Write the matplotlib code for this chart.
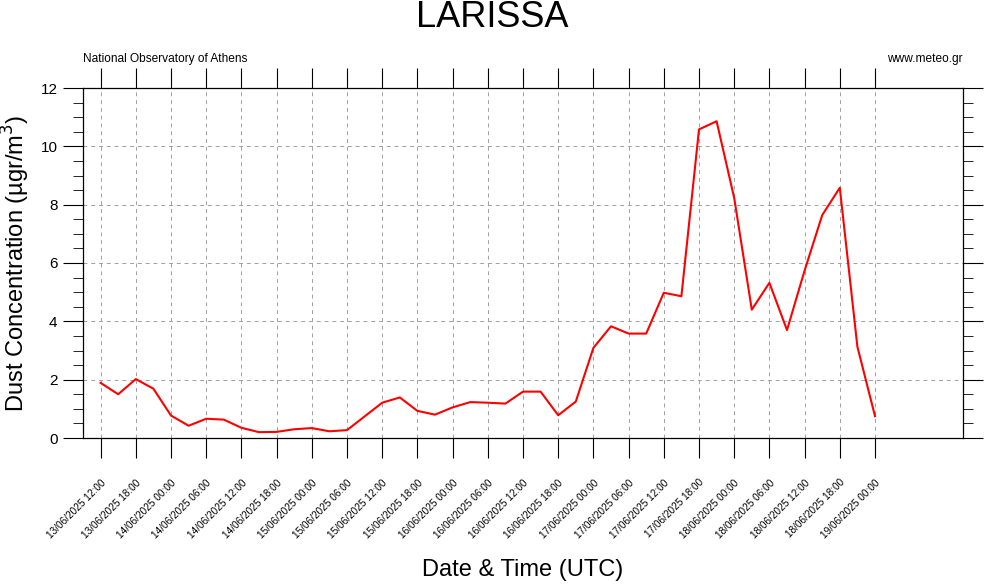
import numpy as np
import pandas as pd
import matplotlib
matplotlib.use('Agg')
import matplotlib.pyplot as plt
from matplotlib.ticker import MultipleLocator

plt.rcParams['font.family'] = ['Liberation Sans', 'DejaVu Sans']

# 3-hourly dust concentration, 13/06/2025 12:00 -> 19/06/2025 00:00
start = pd.Timestamp('2025-06-13 12:00')
dust = [1.89, 1.50, 2.02, 1.69, 0.77, 0.42, 0.66, 0.63, 0.35, 0.20,
        0.21, 0.30, 0.34, 0.23, 0.27, 0.74, 1.21, 1.39, 0.93, 0.80,
        1.05, 1.23, 1.21, 1.18, 1.59, 1.59, 0.78, 1.25, 3.09, 3.83,
        3.58, 3.58, 4.98, 4.86, 10.58, 10.86, 8.23, 4.40, 5.32, 3.70,
        5.74, 7.64, 8.58, 3.13, 0.75]
hours = np.arange(len(dust)) * 3  # hours since start

tick_hours = np.arange(0, 133, 6)
tick_labels = [(start + pd.Timedelta(hours=int(h))).strftime('%d/%m/%Y %H:%M') for h in tick_hours]

fig = plt.figure(figsize=(9.84, 5.84), dpi=100)
ax = fig.add_axes([83/984, 1 - 438/584, (963-83)/984, (438-88)/584])

ax.plot(hours, dust, color='red', lw=1.5, zorder=3)

ax.set_xlim(-3, 147)
ax.set_ylim(0, 12)

ax.set_xticks(tick_hours)
ax.set_xticklabels(tick_labels, rotation=45, ha='right', va='top',
                   rotation_mode='anchor', fontsize=7.2)
ax.yaxis.set_major_locator(MultipleLocator(2))
ax.yaxis.set_minor_locator(MultipleLocator(0.5))
ax.tick_params(axis='y', labelsize=11, which='major', length=14.4, width=0.8,
               direction='out', left=True, right=True, pad=4)
ax.tick_params(axis='y', which='minor', length=7.2, width=0.6,
               direction='out', left=True, right=True)
ax.tick_params(axis='x', which='major', length=14.4, width=0.8,
               direction='out', top=True, bottom=True, pad=14)

ax.grid(True, which='major', color='#a0a0a0', ls=(0, (4, 4)), lw=0.7)
for s in ax.spines.values():
    s.set_linewidth(0.9)

ax.set_ylabel('Dust Concentration (µgr/m$^3$)', fontsize=17, labelpad=6)
ax.set_xlabel('Date & Time (UTC)', fontsize=17, labelpad=14)

fig.text(0.5, 1 - 27/584, 'LARISSA', ha='center', va='baseline', fontsize=26)
fig.text(83/984, 1 - 59/584, 'National Observatory of Athens', ha='left', va='center', fontsize=8.6)
fig.text(963/984, 1 - 59/584, 'www.meteo.gr', ha='right', va='center', fontsize=8.6)

fig.savefig('out.png', dpi=100)
